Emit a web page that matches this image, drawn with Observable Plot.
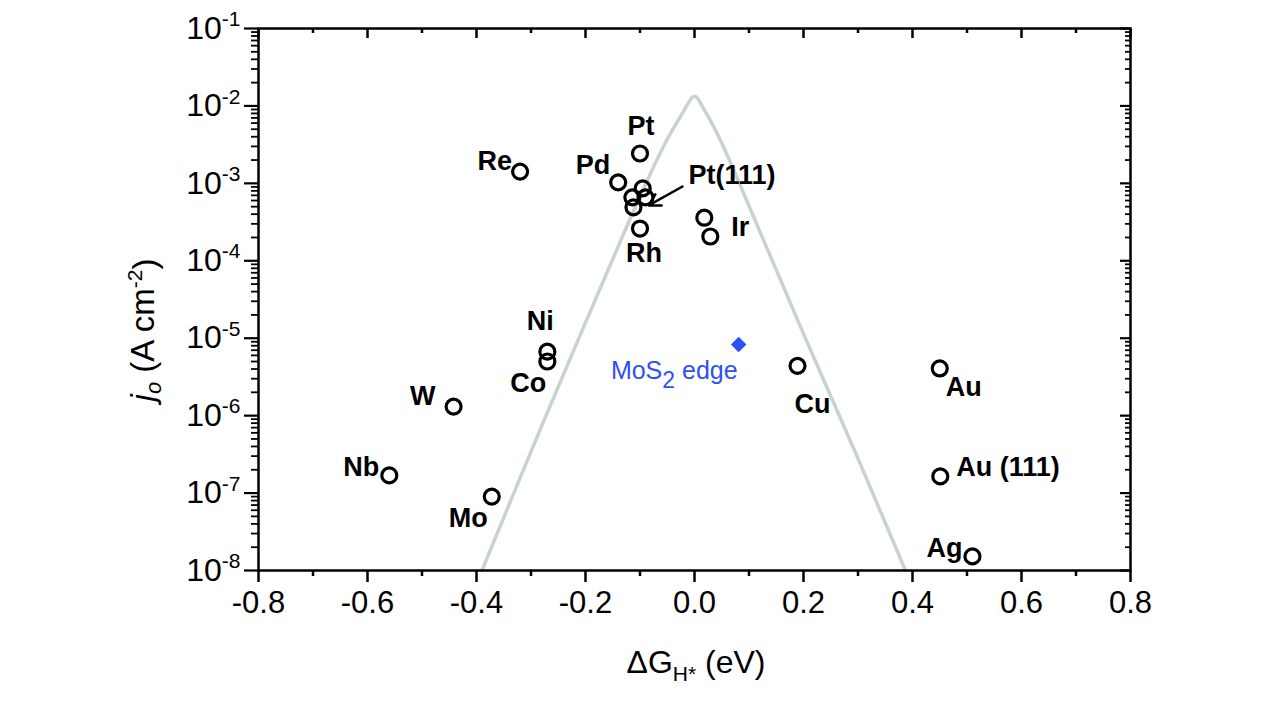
<!DOCTYPE html>
<html><head><meta charset="utf-8">
<script src="https://cdn.jsdelivr.net/npm/d3@7"></script>
<script src="https://cdn.jsdelivr.net/npm/@observablehq/plot@0.6"></script>
<style>
body{margin:0;background:#fff;}
#chart svg{font-family:"Liberation Sans",Arial,sans-serif;}
</style>
</head><body><div id="chart"></div>
<script>
// ---- data ----
const metalNames = ["Re","Pt","Pd","Pt(111)","Pt(111)","Pt(111)","Pt(111)","Rh","Ir","Ir","Ni","Co","W","Nb","Mo","Cu","Au","Au (111)","Ag"];
const metalDG    = [-0.32,-0.10,-0.14,-0.095,-0.114,-0.09,-0.112,-0.10,0.018,0.029,-0.27,-0.27,-0.442,-0.56,-0.372,0.189,0.45,0.451,0.51];
const metalJ0    = [1.42e-3,2.43e-3,1.03e-3,8.6e-4,6.6e-4,6.6e-4,4.9e-4,2.61e-4,3.6e-4,2.06e-4,6.7e-6,5.0e-6,1.31e-6,1.69e-7,9.0e-8,4.4e-6,4.07e-6,1.64e-7,1.52e-8];

const mos2Name = "MoS2 edge";
const mos2DG = [0.081];
const mos2J0 = [8.3e-6];

// volcano curve, points
const curveDG = [-0.39,-0.30,-0.20,-0.12,-0.08,-0.05,-0.03,-0.015,-0.007,0,0.007,0.015,0.03,0.05,0.08,0.12,0.20,0.30,0.387];
const curveJ0 = [1.0e-8,3.5e-7,1.6e-5,3.3e-4,1.4e-3,3.8e-3,6.5e-3,9.8e-3,1.25e-2,1.38e-2,1.25e-2,9.6e-3,6.4e-3,3.4e-3,1.1e-3,2.4e-4,1.1e-5,2.9e-7,1.0e-8];

// Pt(111) arrow (start, end)
const arrowDG = [-0.022,-0.084];
const arrowJ0 = [9.1e-4,5.2e-4];

// axis ticks
const xMajor = [-0.8,-0.6,-0.4,-0.2,0,0.2,0.4,0.6,0.8];
const xMinor = [-0.7,-0.5,-0.3,-0.1,0.1,0.3,0.5,0.7];
const yExponents = [-8,-7,-6,-5,-4,-3,-2,-1];
const yMajor = yExponents.map(e => Math.pow(10, e));
const yMinor = [];
yExponents.slice(0,-1).forEach(e => { for (let k = 2; k <= 9; k++) yMinor.push(k * Math.pow(10, e)); });

// ---- label layout (styling only) ----
const labelLayout = {
  "Re":       {dx:-8,  dy:-10, anchor:"end"},
  "Pt":       {dx:1,   dy:-27, anchor:"middle"},
  "Pd":       {dx:-8,  dy:-17, anchor:"end"},
  "Rh":       {dx:4,   dy:25,  anchor:"middle"},
  "Ir":       {dx:27,  dy:10,  anchor:"start"},
  "Ni":       {dx:-7,  dy:-30, anchor:"middle"},
  "Co":       {dx:-19, dy:22,  anchor:"middle"},
  "W":        {dx:-31, dy:-10, anchor:"middle"},
  "Nb":       {dx:-10, dy:-8,  anchor:"end"},
  "Mo":       {dx:-4,  dy:22,  anchor:"end"},
  "Cu":       {dx:15,  dy:39,  anchor:"middle"},
  "Au":       {dx:6,   dy:19,  anchor:"start"},
  "Au (111)": {dx:16,  dy:-9,  anchor:"start"},
  "Ag":       {dx:-10, dy:-8,  anchor:"end"}
};

const points = metalNames.map((n, i) => ({name: n, dG: metalDG[i], j0: metalJ0[i]}));
const curve = curveDG.map((d, i) => ({dG: d, j0: curveJ0[i]}));
const mos2 = mos2DG.map((d, i) => ({name: mos2Name, dG: d, j0: mos2J0[i]}));
const arrowRow = [{x1: arrowDG[0], y1: arrowJ0[0], x2: arrowDG[1], y2: arrowJ0[1]}];

const W = 1283, H = 709, mL = 258, mR = 153, mT = 28, mB = 139;
const plotW = W - mL - mR, plotH = H - mT - mB;
const LBL = 27;

const labelMarks = [];
const seen = new Set();
points.forEach(p => {
  if (seen.has(p.name) || !labelLayout[p.name]) return;
  seen.add(p.name);
  const L = labelLayout[p.name];
  labelMarks.push(Plot.text([p], {x: "dG", y: "j0", text: "name", dx: L.dx, dy: L.dy, textAnchor: L.anchor,
    fontSize: LBL, fontWeight: "bold", fill: "black"}));
});

const chart = Plot.plot({
  width: W, height: H,
  marginLeft: mL, marginRight: mR, marginTop: mT, marginBottom: mB,
  style: {fontFamily: '"Liberation Sans", Arial, sans-serif', background: "white", color: "black"},
  x: {domain: [-0.8, 0.8]},
  y: {type: "log", domain: [1e-8, 1e-1]},
  marks: [
    Plot.line(curve, {x: "dG", y: "j0", stroke: "#c8d3cf", strokeWidth: 3.5, curve: "basis"}),
    Plot.axisX({ticks: xMajor, tickSize: 12, tickPadding: 8, tickFormat: d => d.toFixed(1), fontSize: 31, label: null, strokeWidth: 2.5}),
    Plot.axisX({ticks: xMinor, tickSize: 6, tickFormat: () => "", label: null, strokeWidth: 2.5}),
    Plot.axisY({ticks: yMajor, tickSize: 14, tickPadding: 4, tickFormat: d => String(Math.round(Math.log10(d))), fontSize: 32, label: null, strokeWidth: 2.2}),
    Plot.axisY({ticks: yMinor, tickSize: 7, tickFormat: () => "", label: null, strokeWidth: 1.8}),
    Plot.tickX(xMajor, {x: d => d, insetBottom: plotH - 10, stroke: "black", strokeWidth: 2.5}),
    Plot.tickX(xMinor, {x: d => d, insetBottom: plotH - 5, stroke: "black", strokeWidth: 2.5}),
    Plot.tickY(yMajor, {y: d => d, insetLeft: plotW - 10, stroke: "black", strokeWidth: 2.2}),
    Plot.tickY(yMinor, {y: d => d, insetLeft: plotW - 5, stroke: "black", strokeWidth: 1.8}),
    Plot.frame({stroke: "black", strokeWidth: 2.5}),
    Plot.dot(points, {x: "dG", y: "j0", r: 7.5, stroke: "black", strokeWidth: 3.2, fill: "none"}),
    Plot.dot(mos2, {x: "dG", y: "j0", symbol: "diamond2", r: 7, fill: "#2f4ff7", stroke: "none"}),
    Plot.arrow(arrowRow, {x1: "x1", y1: "y1", x2: "x2", y2: "y2", stroke: "black", strokeWidth: 2.5, headLength: 12}),
    Plot.text(arrowRow, {x: "x1", y: "y1", text: () => "Pt(111)", dx: 6, dy: -11, textAnchor: "start", fontSize: LBL, fontWeight: "bold", fill: "black"}),
    Plot.text(mos2, {x: "dG", y: "j0", text: "name", dx: -1, dy: 27, textAnchor: "end", fontSize: 25, fill: "#2f4ff7"}),
    ...labelMarks
  ]
});

document.getElementById("chart").appendChild(chart);
const svg = d3.select(chart);

// superscripted y tick labels
svg.selectAll('g[aria-label="y-axis tick label"] text').each(function() {
  const t = this.textContent;
  if (!t) return;
  const sel = d3.select(this);
  sel.text("");
  sel.append("tspan").text("10");
  sel.append("tspan").attr("dy", "-0.6em").attr("font-size", 21).text(t);
});

// MoS2 subscript
svg.selectAll("text").filter(function() { return this.textContent === mos2Name; }).each(function() {
  const sel = d3.select(this);
  sel.text("");
  sel.append("tspan").text("MoS");
  sel.append("tspan").attr("dy", "0.35em").attr("font-size", 23).text("2");
  sel.append("tspan").attr("dy", "-0.35em").text(" edge");
});

// axis titles
const xl = svg.append("text")
  .attr("x", mL + plotW / 2 + 2).attr("y", 673)
  .attr("text-anchor", "middle").attr("font-size", 32).attr("fill", "black");
xl.append("tspan").text("\u0394G");
xl.append("tspan").attr("dy", "0.4em").attr("font-size", 21).text("H*");
xl.append("tspan").attr("dy", "-0.25em").text(" (eV)");

const yl = svg.append("text")
  .attr("transform", "translate(154,330) rotate(-90)")
  .attr("text-anchor", "middle").attr("font-size", 33).attr("fill", "black");
yl.append("tspan").attr("font-style", "italic").text("j");
yl.append("tspan").attr("font-style", "italic").attr("dy", "0.3em").attr("font-size", 22).text("o");
yl.append("tspan").attr("dy", "-0.2em").text(" (A cm");
yl.append("tspan").attr("dy", "-0.55em").attr("font-size", 21).text("-2");
yl.append("tspan").attr("dy", "0.4em").text(")");
</script></body></html>
